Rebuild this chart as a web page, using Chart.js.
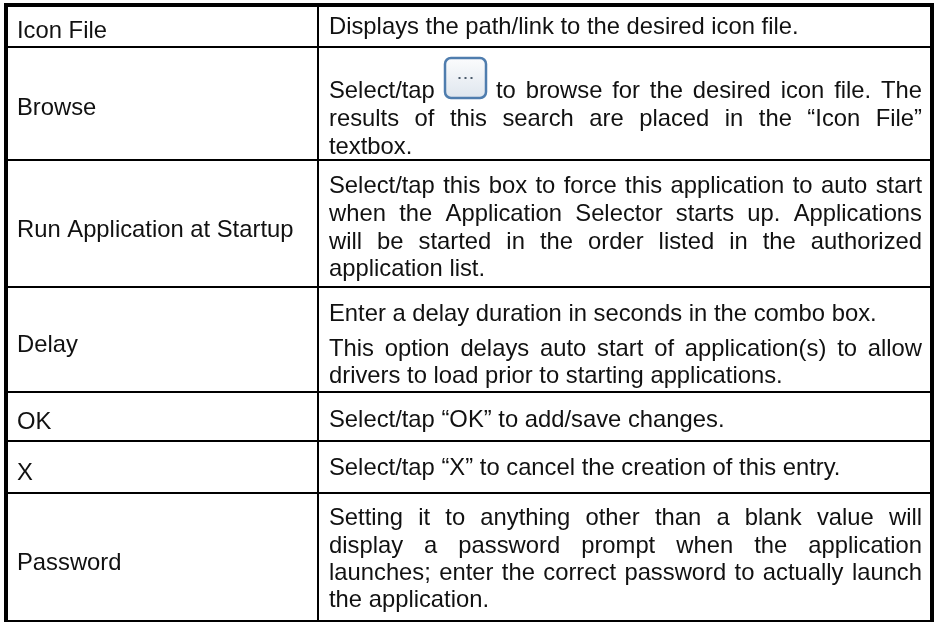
<!DOCTYPE html>
<html>
<head>
<meta charset="utf-8">
<style>
  html, body { margin: 0; padding: 0; background: #fff; }
  canvas { display: block; }
</style>
<script src="https://cdn.jsdelivr.net/npm/chart.js@4"></script>
</head>
<body>
<canvas id="sheet" width="934" height="622"></canvas>
<script>
//----------------------
// Table contents
//----------------------

const rowLabels = ['Icon File', 'Browse', 'Run Application at Startup', 'Delay', 'OK', 'X', 'Password'];

const descLines = [
    'Displays the path/link to the desired icon file.',
    'Select/tap',
    'to browse for the desired icon file. The',
    'results of this search are placed in the “Icon File”',
    'textbox.',
    'Select/tap this box to force this application to auto start',
    'when the Application Selector starts up. Applications',
    'will be started in the order listed in the authorized',
    'application list.',
    'Enter a delay duration in seconds in the combo box.',
    'This option delays auto start of application(s) to allow',
    'drivers to load prior to starting applications.',
    'Select/tap “OK” to add/save changes.',
    'Select/tap “X” to cancel the creation of this entry.',
    'Setting it to anything other than a blank value will',
    'display a password prompt when the application',
    'launches; enter the correct password to actually launch',
    'the application.'
];

// lines set justified in the reference, by index into descLines
const justifiedLines = [2, 3, 5, 6, 7, 10, 14, 15, 16];

// table rules, in page pixels along each axis
const columnRules = [6, 318, 932];
const rowRules = [5, 47, 160, 287, 392, 441, 493, 621];

//----------------------
// Layout
//----------------------

const labelX = 17;
const labelBaselines = [38, 115, 237, 352, 429, 480, 570];
const descX = 329;
const descRight = 922;
const afterIconX = 496;
const descBaselines = [34, 98, 98, 126, 154, 193, 221, 249, 276, 321, 356, 383, 427, 475, 525, 553, 580, 607];
const iconBox = { left: 445, top: 58, right: 486, bottom: 98 };
const textFont = '23.8px "Liberation Sans", Arial, sans-serif';

function drawLine(ctx, text, x, y, right) {
    if (right === null) {
        ctx.fillText(text, x, y);
        return;
    }
    const words = text.split(' ');
    const used = words.reduce((sum, w) => sum + ctx.measureText(w).width, 0);
    const gap = (right - x - used) / (words.length - 1);
    words.forEach(w => {
        ctx.fillText(w, x, y);
        x += ctx.measureText(w).width + gap;
    });
}

function drawIcon(ctx, sx, sy) {
    const l = sx.getPixelForValue(iconBox.left), r = sx.getPixelForValue(iconBox.right);
    const t = sy.getPixelForValue(iconBox.top), b = sy.getPixelForValue(iconBox.bottom);
    const fill = ctx.createLinearGradient(0, t, 0, b);
    fill.addColorStop(0, '#fbfcfd');
    fill.addColorStop(1, '#dfe6ee');
    ctx.beginPath();
    ctx.roundRect(l, t, r - l, b - t, 6);
    ctx.fillStyle = fill;
    ctx.fill();
    ctx.lineWidth = 2.5;
    ctx.strokeStyle = '#4f7dae';
    ctx.stroke();
    ctx.fillStyle = '#4a5a6a';
    [-6, 0, 6].forEach(dx => ctx.fillRect((l + r) / 2 + dx - 1, (t + b) / 2 - 1, 2, 2));
}

const tableText = {
    id: 'tableText',
    afterDatasetsDraw(chart) {
        const ctx = chart.ctx;
        ctx.save();
        ctx.font = textFont;
        ctx.fillStyle = '#111';
        ctx.textBaseline = 'alphabetic';
        chart.getDatasetMeta(0).data.forEach((pt, i) => {
            ctx.fillText(rowLabels[i], pt.x, pt.y);
        });
        chart.getDatasetMeta(1).data.forEach((pt, i) => {
            const right = justifiedLines.includes(i) ? chart.scales.x.getPixelForValue(descRight) : null;
            drawLine(ctx, descLines[i], pt.x, pt.y, right);
        });
        drawIcon(ctx, chart.scales.x, chart.scales.y);
        ctx.restore();
    }
};

function ruleWidth(outerTop, outerBottom) {
    return c => (c.index === outerTop || c.index === outerBottom) ? 4 : 2;
}

new Chart(document.getElementById('sheet').getContext('2d'), {
    type: 'scatter',
    data: {
        datasets: [
            { label: 'Labels', pointRadius: 0, data: rowLabels.map((t, i) => ({ x: labelX, y: labelBaselines[i] })) },
            { label: 'Descriptions', pointRadius: 0, data: descLines.map((t, i) => ({ x: i === 2 ? afterIconX : descX, y: descBaselines[i] })) }
        ]
    },
    plugins: [tableText],
    options: {
        responsive: false,
        animation: false,
        layout: { padding: { left: 4, top: 3, right: 0, bottom: 0 } },
        plugins: { legend: { display: false }, tooltip: { enabled: false } },
        scales: {
            x: {
                type: 'linear', position: 'top', min: 4, max: 934,
                afterBuildTicks: s => { s.ticks = columnRules.map(v => ({ value: v })); },
                ticks: { display: false },
                border: { display: false },
                grid: { color: '#000', drawTicks: false, lineWidth: ruleWidth(0, columnRules.length - 1) }
            },
            y: {
                type: 'linear', reverse: true, min: 3, max: 622,
                afterBuildTicks: s => { s.ticks = rowRules.map(v => ({ value: v })); },
                ticks: { display: false },
                border: { display: false },
                grid: { color: '#000', drawTicks: false, lineWidth: ruleWidth(0, -1) }
            }
        }
    }
});
</script>
</body>
</html>
